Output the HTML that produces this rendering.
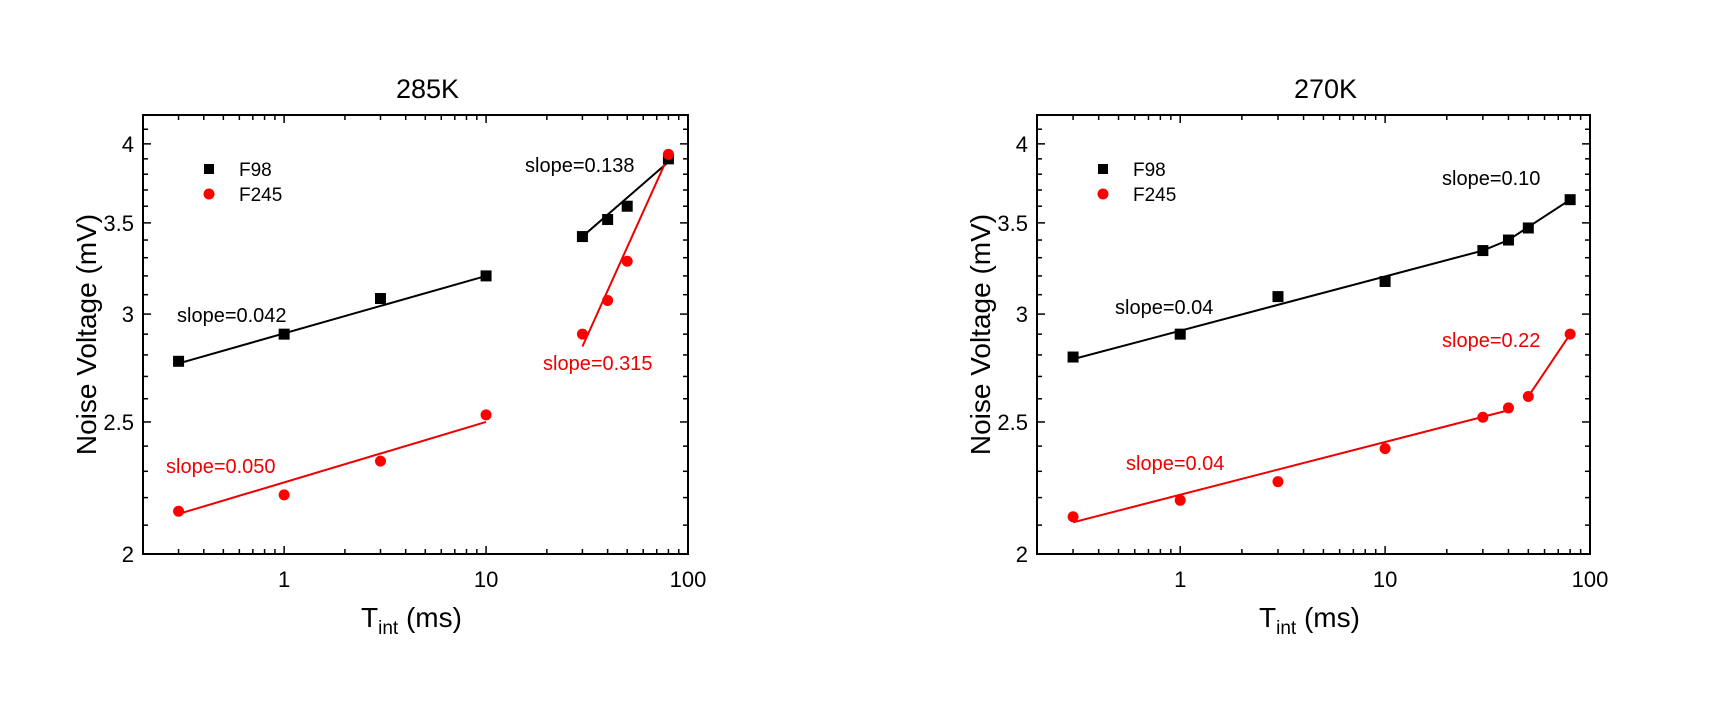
<!DOCTYPE html>
<html><head><meta charset="utf-8"><style>
html,body{margin:0;padding:0;background:#fff}
svg{display:block;font-family:"Liberation Sans",Arial,sans-serif}
</style></head><body>
<svg id="fig" width="1709" height="707" viewBox="0 0 1709 707" xmlns="http://www.w3.org/2000/svg"></svg>
<script>
const xCats=[0.3,1,3,10,30,40,50,80];
const xTicks=[1,10,100];
const xTickLabels=["1","10","100"];
const yTicks=[2,2.5,3,3.5,4];
const yTickLabels=["2","2.5","3","3.5","4"];
// 285K
const f98_285=[2.77,2.90,3.08,3.20,3.42,3.52,3.60,3.90];
const f245_285=[2.15,2.21,2.34,2.53,2.90,3.07,3.28,3.93];
const fitX_285_a=[0.3,10];
const fitB_285_a=[2.76,3.20];
const fitR_285_a=[2.14,2.50];
const fitX_285_b=[30,80];
const fitB_285_b=[3.42,3.88];
const fitR_285_b=[2.84,3.92];
// 270K
const f98_270=[2.79,2.90,3.09,3.17,3.34,3.40,3.47,3.64];
const f245_270=[2.13,2.19,2.26,2.39,2.52,2.56,2.61,2.90];
const fitBx_270=[0.3,30,40,80];
const fitBy_270=[2.78,3.34,3.40,3.64];
const fitRx_270a=[0.3,40];
const fitRy_270a=[2.11,2.55];
const fitRx_270b=[50,80];
const fitRy_270b=[2.61,2.90];

const NS="http://www.w3.org/2000/svg";
const svg=document.getElementById('fig');
function el(tag,attrs,parent,text){const e=document.createElementNS(NS,tag);for(const k in attrs)e.setAttribute(k,attrs[k]);if(text!==undefined)e.textContent=text;(parent||svg).appendChild(e);return e;}

function panel(cfg){
  const g=el('g',{});
  
  
  const L=cfg.x0,R=cfg.x1,T=115,B=554;
  const xmin=0.2,xmax=100,ymin=2,ymax=4.2;
  const X=v=>L+(Math.log10(v)-Math.log10(xmin))/(Math.log10(xmax)-Math.log10(xmin))*(R-L);
  const Y=v=>B-(Math.log(v)-Math.log(ymin))/(Math.log(ymax)-Math.log(ymin))*(B-T);
  // ticks
  const tk=el('g',{stroke:'#000','stroke-width':1.5},g);
  
  
  for(let d=0.1;d<=100;d*=10){for(let m=1;m<10;m++){const v=d*m;if(v<xmin-1e-9||v>xmax+1e-9)continue;const major=(m===1);const len=major?8:5;const x=X(v);
    el('line',{x1:x,y1:B,x2:x,y2:B-len},tk);el('line',{x1:x,y1:T,x2:x,y2:T+len},tk);}}
  for(let i=20;i<=42;i++){const v=i/10;const major=(i%5===0);const len=major?8:5;const y=Y(v);
    el('line',{x1:L,y1:y,x2:L+len,y2:y},tk);el('line',{x1:R,y1:y,x2:R-len,y2:y},tk);}
  const fr=el('rect',{x:L,y:T,width:R-L,height:B-T,fill:'none',stroke:'#000','stroke-width':2},g);
  
  
  xTicks.forEach((v,i)=>{const t=el('text',{x:X(v),y:587,'font-size':22,'text-anchor':'middle'},g,xTickLabels[i]);
    
    });
  yTicks.forEach((v,i)=>{const t=el('text',{x:L-9,y:Y(v)+8,'font-size':22,'text-anchor':'end'},g,yTickLabels[i]);
    
    });
  const ti=el('text',{x:(L+R)/2+12,y:98,'font-size':27,'text-anchor':'middle'},g,cfg.title);
  
  
  const xt=el('text',{x:(L+R)/2-4,y:627,'font-size':28,'text-anchor':'middle'},g);
  
  
  el('tspan',{},xt,'T');el('tspan',{'font-size':19,dy:7},xt,'int');el('tspan',{dy:-7},xt,' (ms)');
  const yt=el('text',{x:0,y:0,'font-size':28,'text-anchor':'middle',transform:`translate(${L-47},${(T+B)/2}) rotate(-90)`},g,'Noise Voltage (mV)');
  
  
  // fit lines
  cfg.lines.forEach(ln=>{const p=ln.xs.map((v,i)=>X(v)+','+Y(ln.ys[i])).join(' ');
    const pl=el('polyline',{points:p,fill:'none',stroke:ln.c,'stroke-width':2},g);
    
    });
  // markers
  xCats.forEach((v,i)=>{const r=el('rect',{x:X(v)-5.5,y:Y(cfg.b[i])-5.5,width:11,height:11,fill:'#000'},g);
    
    });
  xCats.forEach((v,i)=>{const c=el('circle',{cx:X(v),cy:Y(cfg.r[i]),r:5.5,fill:'#f00'},g);
    
    });
  // legend
  const lg=el('g',{},g);
  
  
  el('rect',{x:L+61,y:164,width:10,height:10,fill:'#000'},lg);
  el('text',{x:L+96,y:176,'font-size':19},lg,'F98');
  el('circle',{cx:L+66,cy:194,r:5.5,fill:'#f00'},lg);
  el('text',{x:L+96,y:201,'font-size':19},lg,'F245');
  cfg.labels.forEach(s=>{const t=el('text',{x:s[0],y:s[1],'font-size':20,fill:s[3]},g,s[2]);
    
    });
}
panel({name:'panel-285k',x0:143,x1:688,title:'285K',b:f98_285,r:f245_285,
  lines:[{xs:fitX_285_a,ys:fitB_285_a,c:'#000'},{xs:fitX_285_a,ys:fitR_285_a,c:'#e00'},{xs:fitX_285_b,ys:fitB_285_b,c:'#000'},{xs:fitX_285_b,ys:fitR_285_b,c:'#e00'}],
  labels:[[177,322,'slope=0.042','#000'],[525,172,'slope=0.138','#000'],[543,370,'slope=0.315','#e00'],[166,473,'slope=0.050','#e00']]});
panel({name:'panel-270k',x0:1037,x1:1590,title:'270K',b:f98_270,r:f245_270,
  lines:[{xs:fitBx_270,ys:fitBy_270,c:'#000'},{xs:fitRx_270a,ys:fitRy_270a,c:'#e00'},{xs:fitRx_270b,ys:fitRy_270b,c:'#e00'}],
  labels:[[1115,314,'slope=0.04','#000'],[1442,185,'slope=0.10','#000'],[1442,347,'slope=0.22','#e00'],[1126,470,'slope=0.04','#e00']]});
</script>
</body></html>
